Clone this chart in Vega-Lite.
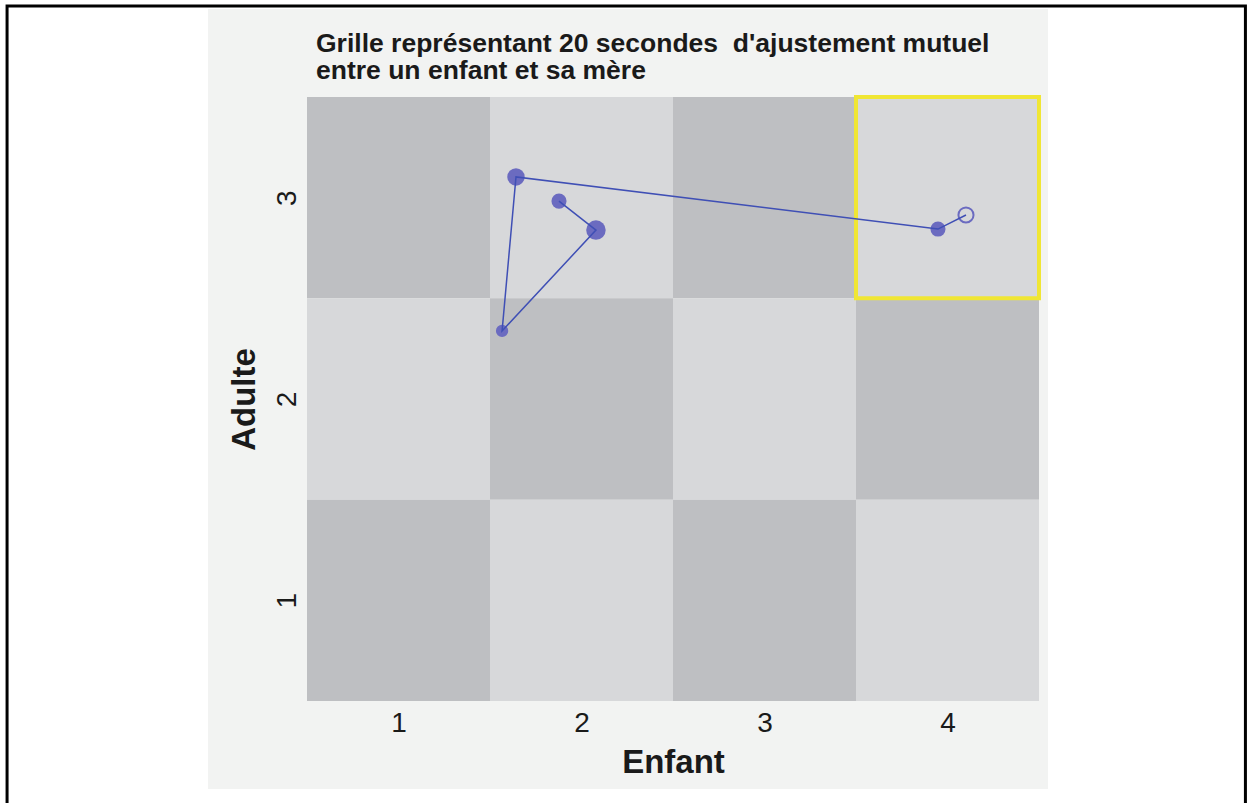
{
  "$schema": "https://vega.github.io/schema/vega-lite/v6.json",
  "width": 732,
  "height": 604,
  "autosize": {"type": "none"},
  "padding": {"left": 307, "top": 97, "right": 209, "bottom": 102},
  "background": "white",
  "title": {
    "text": ["Grille représentant 20 secondes \u00a0d'ajustement mutuel", "entre un enfant et sa mère"],
    "anchor": "start",
    "frame": "group",
    "dx": 9,
    "dy": 80,
    "offset": 0,
    "font": "Liberation Sans",
    "fontSize": 26.5,
    "fontWeight": "bold",
    "lineHeight": 27,
    "color": "#1a1a1a",
    "zindex": 2
  },
  "datasets": {
    "cases": [
      {"enfant_debut": 0.5, "enfant_fin": 1.5, "adulte_debut": 2.5, "adulte_fin": 3.5, "teinte": "foncé", "cible": false},
      {"enfant_debut": 1.5, "enfant_fin": 2.5, "adulte_debut": 2.5, "adulte_fin": 3.5, "teinte": "clair", "cible": false},
      {"enfant_debut": 2.5, "enfant_fin": 3.5, "adulte_debut": 2.5, "adulte_fin": 3.5, "teinte": "foncé", "cible": false},
      {"enfant_debut": 3.5, "enfant_fin": 4.5, "adulte_debut": 2.5, "adulte_fin": 3.5, "teinte": "clair", "cible": true},
      {"enfant_debut": 0.5, "enfant_fin": 1.5, "adulte_debut": 1.5, "adulte_fin": 2.5, "teinte": "clair", "cible": false},
      {"enfant_debut": 1.5, "enfant_fin": 2.5, "adulte_debut": 1.5, "adulte_fin": 2.5, "teinte": "foncé", "cible": false},
      {"enfant_debut": 2.5, "enfant_fin": 3.5, "adulte_debut": 1.5, "adulte_fin": 2.5, "teinte": "clair", "cible": false},
      {"enfant_debut": 3.5, "enfant_fin": 4.5, "adulte_debut": 1.5, "adulte_fin": 2.5, "teinte": "foncé", "cible": false},
      {"enfant_debut": 0.5, "enfant_fin": 1.5, "adulte_debut": 0.5, "adulte_fin": 1.5, "teinte": "foncé", "cible": false},
      {"enfant_debut": 1.5, "enfant_fin": 2.5, "adulte_debut": 0.5, "adulte_fin": 1.5, "teinte": "clair", "cible": false},
      {"enfant_debut": 2.5, "enfant_fin": 3.5, "adulte_debut": 0.5, "adulte_fin": 1.5, "teinte": "foncé", "cible": false},
      {"enfant_debut": 3.5, "enfant_fin": 4.5, "adulte_debut": 0.5, "adulte_fin": 1.5, "teinte": "clair", "cible": false}
    ],
    "trajet": [
      {"ordre": 1, "enfant": 1.877, "adulte": 2.983, "duree": 3, "etape": "point"},
      {"ordre": 2, "enfant": 2.079, "adulte": 2.839, "duree": 5, "etape": "point"},
      {"ordre": 3, "enfant": 1.566, "adulte": 2.338, "duree": 2, "etape": "point"},
      {"ordre": 4, "enfant": 1.642, "adulte": 3.103, "duree": 4, "etape": "point"},
      {"ordre": 5, "enfant": 3.948, "adulte": 2.844, "duree": 3, "etape": "point"},
      {"ordre": 6, "enfant": 4.101, "adulte": 2.914, "duree": 3, "etape": "fin"}
    ]
  },
  "config": {
    "view": {"stroke": null},
    "axis": {
      "domain": false,
      "ticks": false,
      "grid": false,
      "labelFont": "Liberation Sans",
      "labelFontSize": 28,
      "labelColor": "#1a1a1a",
      "titleFont": "Liberation Sans",
      "titleFontSize": 33,
      "titleFontWeight": "bold",
      "titleColor": "#1a1a1a"
    }
  },
  "layer": [
    {
      "data": {"values": [{}]},
      "mark": {"type": "rect", "color": "#f2f3f2"},
      "encoding": {
        "x": {"datum": -0.041, "type": "quantitative",
          "scale": {"domain": [0.5, 4.5], "nice": false, "zero": false},
          "axis": {"values": [1, 2, 3, 4], "format": "d", "title": "Enfant", "labelPadding": 8, "titlePadding": 9, "zindex": 1}},
        "x2": {"datum": 4.549},
        "y": {"datum": 0.063, "type": "quantitative",
          "scale": {"domain": [0.5, 3.5], "nice": false, "zero": false},
          "axis": {"values": [1, 2, 3], "format": "d", "title": "Adulte", "labelAngle": -90, "labelAlign": "center", "labelBaseline": "bottom", "labelPadding": 6, "titlePadding": 12, "zindex": 1}},
        "y2": {"datum": 3.937}
      }
    },
    {
      "data": {"values": [{}]},
      "mark": {"type": "rect", "fillOpacity": 0, "stroke": "black", "strokeWidth": 3},
      "encoding": {
        "x": {"datum": -1.139, "type": "quantitative"},
        "x2": {"datum": 5.628},
        "y": {"datum": -0.06, "type": "quantitative"},
        "y2": {"datum": 3.952}
      }
    },
    {
      "data": {"name": "cases"},
      "mark": {"type": "rect"},
      "encoding": {
        "x": {"field": "enfant_debut", "type": "quantitative"},
        "x2": {"field": "enfant_fin"},
        "y": {"field": "adulte_debut", "type": "quantitative"},
        "y2": {"field": "adulte_fin"},
        "color": {
          "field": "teinte", "type": "nominal",
          "scale": {"domain": ["foncé", "clair"], "range": ["#bebfc2", "#d7d8da"]},
          "legend": null
        }
      }
    },
    {
      "data": {"name": "cases"},
      "transform": [{"filter": "datum.cible"}],
      "mark": {"type": "rect", "fillOpacity": 0, "stroke": "#f0e634", "strokeWidth": 4},
      "encoding": {
        "x": {"field": "enfant_debut", "type": "quantitative"},
        "x2": {"field": "enfant_fin"},
        "y": {"field": "adulte_debut", "type": "quantitative"},
        "y2": {"field": "adulte_fin"}
      }
    },
    {
      "data": {"name": "trajet"},
      "transform": [{"filter": "datum.etape == 'point'"}],
      "mark": {"type": "circle", "color": "#6b6bc0", "opacity": 1},
      "encoding": {
        "x": {"field": "enfant", "type": "quantitative"},
        "y": {"field": "adulte", "type": "quantitative"},
        "size": {"field": "duree", "type": "quantitative", "scale": {"domain": [0, 5], "range": [0, 380], "zero": true}, "legend": null}
      }
    },
    {
      "data": {"name": "trajet"},
      "transform": [{"filter": "datum.etape == 'fin'"}],
      "mark": {"type": "point", "shape": "circle", "filled": false, "color": "#6b6bc0", "strokeWidth": 2, "opacity": 1},
      "encoding": {
        "x": {"field": "enfant", "type": "quantitative"},
        "y": {"field": "adulte", "type": "quantitative"},
        "size": {"field": "duree", "type": "quantitative", "legend": null}
      }
    },
    {
      "data": {"name": "trajet"},
      "mark": {"type": "line", "color": "#3f4fb5", "strokeWidth": 1.5},
      "encoding": {
        "x": {"field": "enfant", "type": "quantitative"},
        "y": {"field": "adulte", "type": "quantitative"},
        "order": {"field": "ordre", "type": "quantitative"}
      }
    }
  ]
}
